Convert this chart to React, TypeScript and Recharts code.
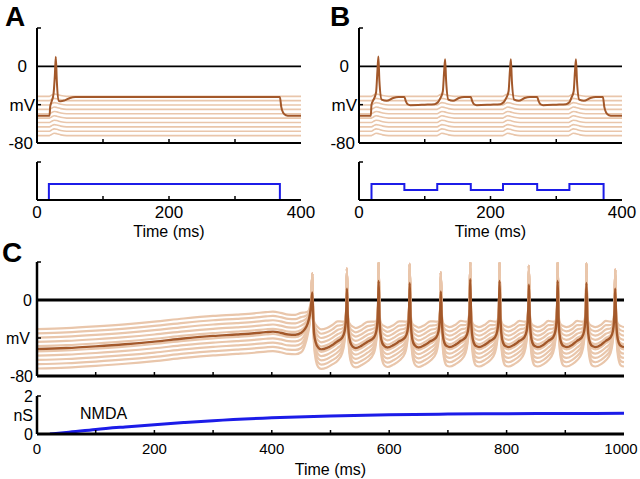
import React from 'react'
import { LineChart, Line, XAxis, YAxis, ReferenceLine } from 'recharts'

const FONT = '"Liberation Sans", Arial, Helvetica, sans-serif'
const DARK = '#a3582a'
const LIGHT = '#e9c6ab'
const BLUE = '#1c1ce8'

// ---- A: one long current step
const aTime = [0, 19, 20, 22, 25, 27, 28.5, 30, 33, 36, 42, 50, 58, 368, 370, 373, 377, 383, 400]
const aVm = [-51.6, -51.6, -42, -37, -29, -10, 10, -15, -36, -36.5, -35.5, -33, -32, -32, -42, -48.5, -51, -51.6, -51.6]
const aStepT = [18, 18, 368, 368]
const aStepI = [0, 0.42, 0.42, 0]

// faint sweeps in A and B sit at fixed levels (mV) with a small bump at each pulse onset
const restLevels = [-31.3, -35.8, -40.3, -44.9, -49.5, -54, -58.6, -63.2, -67.7, -72.3]
const aBumpT = [0, 19, 22, 26, 30, 36, 45, 400]
const aBump = [0, 0, 1.2, 2.4, 2, 0.8, 0, 0]

// ---- B: pulsed current
const bTime = [
  0, 18, 19, 22, 26, 28, 29.5, 31, 34.5, 42, 52, 60, 69, 71, 74, 78, 100, 115,
  120, 124, 127.5, 129.5, 131, 132.5, 136, 143, 152, 160, 170, 172, 175, 179, 200, 215,
  220, 224, 227.5, 229.5, 231, 232.5, 236, 243, 252, 260, 271, 273, 276, 280, 300, 315,
  320, 323, 326.5, 328.5, 330, 331.5, 335, 342, 352, 360, 371, 373, 376, 380, 386, 400,
]
const bVm = [
  -51.6, -51.6, -40, -35, -27, -5, 10.2, -15, -34.7, -36, -33, -32, -32, -36, -39.5, -40.5, -40, -39.5,
  -37.5, -33, -26, -5, 7.4, -15, -34.7, -36, -33, -32, -32, -36, -39.5, -40.5, -40, -39.5,
  -37.5, -33, -26, -5, 7.4, -15, -34.7, -36, -33, -32, -32, -36, -39.5, -40.5, -40, -39.5,
  -37.5, -33, -26, -5, 7.4, -15, -34.7, -36, -33, -32, -32, -42, -48.5, -51, -51.6, -51.6,
]
const bStepT = [19, 19, 69, 69, 119, 119, 170, 170, 219, 219, 271, 271, 320, 320, 372, 372]
const bStepI = [0, 0.42, 0.42, 0.26, 0.26, 0.42, 0.42, 0.26, 0.26, 0.42, 0.42, 0.26, 0.26, 0.42, 0.42, 0]
const bBumpT = [0, 19, 22, 26, 30, 36, 45, 119, 122, 126, 130, 136, 145, 219, 222, 226, 230, 236, 245, 319, 322, 326, 330, 336, 345, 400]
const bBump = [0, 0, 1.2, 2.4, 2, 0.8, 0, 0, 1.2, 2.4, 2, 0.8, 0, 0, 1.2, 2.4, 2, 0.8, 0, 0, 1.2, 2.4, 2, 0.8, 0, 0]

// ---- C: NMDA drive. [t, Vm, spread of the faint sweeps around the dark one]
const cSweep: [number, number, number][] = [
  [0, -51.6, 1], [50, -50.6, 1], [100, -48.8, 1], [150, -46.6, 1], [200, -43.8, 1], [250, -40.5, 1],
  [300, -37.8, 1], [340, -36.3, 1], [370, -35, 1], [390, -33.8, 1], [402, -33.3, 1], [415, -34.5, 1],
  [428, -36.3, 1], [440, -36.6, 1], [450, -34.5, 1], [456, -31, 0.85], [461, -25, 0.6], [465, -15, 0.4], [467, -5, 0.25],
  [469, 8, 0],
  [470.5, -18, 0.3], [472, -35, 0.6], [475, -45, 0.9], [479, -50, 1], [484, -52, 1], [494, -50.5, 1], [504, -47, 1],
  [512, -43.5, 1], [520, -39.5, 0.8], [524, -33, 0.5], [526, -22, 0.3], [527, -8, 0.15],
  [528, 12, 0],
  [529.5, -18, 0.3], [531, -35, 0.6], [534, -45, 0.9], [538, -49, 1], [543, -50.5, 1], [553, -48, 1], [563, -44, 1],
  [574, -39.5, 0.8], [578, -33, 0.5], [580, -22, 0.3], [581, -8, 0.15],
  [582, 20, 0],
  [583.5, -18, 0.3], [585, -35, 0.6], [588, -45, 0.9], [592, -48.5, 1], [597, -50, 1], [607, -47.5, 1], [617, -43.5, 1],
  [627, -39.5, 0.8], [631, -33, 0.5], [633, -22, 0.3], [634, -8, 0.15],
  [635, 18, 0],
  [636.5, -18, 0.3], [638, -35, 0.6], [641, -45, 0.9], [645, -48.5, 1], [650, -50, 1], [660, -47.5, 1], [670, -43.5, 1],
  [680, -39.5, 0.8], [684, -33, 0.5], [686, -22, 0.3], [687, -8, 0.15],
  [688, 9, 0],
  [689.5, -18, 0.3], [691, -35, 0.6], [694, -45, 0.9], [698, -48.5, 1], [703, -49.5, 1], [713, -47, 1], [722, -43, 1],
  [730, -39.5, 0.8], [734, -33, 0.5], [736, -22, 0.3], [737, -8, 0.15],
  [738, 22, 0],
  [739.5, -18, 0.3], [741, -35, 0.6], [744, -45, 0.9], [748, -48.5, 1], [753, -49.5, 1], [763, -47, 1], [772, -43, 1],
  [780, -39.5, 0.8], [784, -33, 0.5], [786, -22, 0.3], [787, -8, 0.15],
  [788, 20, 0],
  [789.5, -18, 0.3], [791, -35, 0.6], [794, -45, 0.9], [798, -48.5, 1], [803, -49.5, 1], [813, -47, 1], [822, -43, 1],
  [830, -39.5, 0.8], [834, -33, 0.5], [836, -22, 0.3], [837, -8, 0.15],
  [838, 16, 0],
  [839.5, -18, 0.3], [841, -35, 0.6], [844, -45, 0.9], [848, -48.5, 1], [853, -49.5, 1], [863, -47, 1], [871, -43, 1],
  [879, -39.5, 0.8], [883, -33, 0.5], [885, -22, 0.3], [886, -8, 0.15],
  [887, 20, 0],
  [888.5, -18, 0.3], [890, -35, 0.6], [893, -45, 0.9], [897, -48.5, 1], [902, -49.5, 1], [912, -47, 1], [920, -43, 1],
  [928, -39.5, 0.8], [932, -33, 0.5], [934, -22, 0.3], [935, -8, 0.15],
  [936, 18, 0],
  [937.5, -18, 0.3], [939, -35, 0.6], [942, -45, 0.9], [946, -48.5, 1], [951, -49.5, 1], [961, -47, 1], [969, -43, 1],
  [977, -39.5, 0.8], [981, -33, 0.5], [983, -22, 0.3], [984, -8, 0.15],
  [985, 12, 0],
  [986.5, -18, 0.3], [988, -35, 0.6], [991, -45, 0.9], [995, -48.5, 1], [1000, -49.5, 1],
]
const cSpikeT = [469, 528, 582, 635, 688, 738, 788, 838, 887, 936, 985]
const cSpikeTop = [28, 33, 40, 38, 29, 40, 40, 36, 40, 39, 32]
const cOffsets = [21, 16.5, 12, 7.5, 3, -2.5, -7, -11.5, -16, -20.5]
const nmdaT = [22, 50, 100, 150, 200, 250, 300, 400, 500, 600, 700, 800, 900, 1000]
const nmdaG = [0, 0.08, 0.24, 0.37, 0.49, 0.6, 0.7, 0.85, 0.95, 1.01, 1.05, 1.07, 1.08, 1.09]

const zip = (ts: number[], vs: number[]) => ts.map((t, i) => ({ t, v: vs[i] }))

const aDark = zip(aTime, aVm)
const bDark = zip(bTime, bVm)
const aLight = restLevels.map((lv) => aBumpT.map((t, i) => ({ t, v: lv + aBump[i] })))
const bLight = restLevels.map((lv) => bBumpT.map((t, i) => ({ t, v: lv + bBump[i] })))
const cDark = cSweep.map(([t, v]) => ({ t, v }))
const cLight = cOffsets.map((off) =>
  cSweep.map(([t, v, s]) => {
    const k = cSpikeT.indexOf(t)
    return { t, v: k >= 0 ? cSpikeTop[k] : v + off * s }
  })
)

type YSpec = { label?: string; gap?: number; mark?: boolean }

function yTick(specs: Record<string, YSpec>, fontSize: number) {
  return (props: any) => {
    const { x, y, payload } = props
    const s = specs[String(payload.value)]
    if (!s) return <g />
    return (
      <g>
        {s.mark && <line x1={x} x2={x + 4} y1={y} y2={y} stroke="#000" strokeWidth={1.5} />}
        {s.label && (
          <text x={x - (s.gap ?? 4)} y={y} dy="0.36em" textAnchor="end" fontSize={fontSize} fontFamily={FONT} fill="#000">
            {s.label}
          </text>
        )}
      </g>
    )
  }
}

// labels centred under their tick; the last one is nudged left so it stays inside the frame
function xTick(labels: number[], marks: number[], fontSize: number, drop: number, lastNudge = 0) {
  const last = labels[labels.length - 1]
  return (props: any) => {
    const { x, y, payload } = props
    const v = payload.value
    return (
      <g>
        {marks.includes(v) && <line x1={x} x2={x} y1={y} y2={y - 4} stroke="#000" strokeWidth={1.5} />}
        {labels.includes(v) && (
          <text x={x - (v === last ? lastNudge : 0)} y={y + drop} dy="0.36em" textAnchor="middle" fontSize={fontSize} fontFamily={FONT} fill="#000">
            {v}
          </text>
        )}
      </g>
    )
  }
}

// axes get 1px of room; the plot edge then sits at margin + 1
const axisBase = { tickSize: 0, tickMargin: 0, tickLine: false, interval: 0 as const, allowDataOverflow: true }

const box = (left: number, top: number): React.CSSProperties => ({ position: 'absolute', left, top })

const timeLabel = (offset: number) => ({
  value: 'Time (ms)',
  position: 'bottom' as const,
  offset,
  fontSize: 16,
  fontFamily: FONT,
  fill: '#000',
})

function VmShort({ left, mLeft, mRight, dark, light }: { left: number; mLeft: number; mRight: number; dark: any[]; light: any[][] }) {
  return (
    <div style={box(left, 0)}>
      <LineChart width={320} height={160} margin={{ top: 28, right: mRight, bottom: 16, left: mLeft - 1 }}>
        <XAxis
          {...axisBase}
          dataKey="t"
          type="number"
          domain={[0, 400]}
          ticks={[0, 100, 200, 300, 400]}
          height={1}
          axisLine={{ stroke: '#000', strokeWidth: 2 }}
          tick={xTick([], [100, 200, 300], 16, 12)}
        />
        <YAxis
          {...axisBase}
          type="number"
          domain={[-80, 40]}
          ticks={[-80, -40, 0, 40]}
          width={1}
          axisLine={{ stroke: '#000', strokeWidth: 2 }}
          tick={yTick({ '40': { mark: true }, '0': { label: '0', gap: 10 }, '-40': { label: 'mV', gap: 2, mark: true }, '-80': { label: '-80', gap: 4 } }, 17)}
        />
        <ReferenceLine y={0} stroke="#000" strokeWidth={1.6} />
        {light.map((d, i) => (
          <Line key={i} data={d} dataKey="v" type="monotone" stroke={LIGHT} strokeWidth={1.6} dot={false} activeDot={false} isAnimationActive={false} />
        ))}
        <Line data={dark} dataKey="v" type="monotone" stroke={DARK} strokeWidth={2} dot={false} activeDot={false} isAnimationActive={false} />
      </LineChart>
    </div>
  )
}

function CurrentShort({ left, mLeft, mRight, step }: { left: number; mLeft: number; mRight: number; step: any[] }) {
  return (
    <div style={box(left, 150)}>
      <LineChart width={320} height={100} margin={{ top: 12, right: mRight, bottom: 49, left: mLeft - 1 }}>
        <XAxis
          {...axisBase}
          dataKey="t"
          type="number"
          domain={[0, 400]}
          ticks={[0, 100, 200, 300, 400]}
          height={1}
          axisLine={{ stroke: '#000', strokeWidth: 2 }}
          tick={xTick([0, 200, 400], [100, 200, 300], 17, 12)}
          label={timeLabel(25)}
        />
        <YAxis
          {...axisBase}
          type="number"
          domain={[0, 1]}
          ticks={[0, 1]}
          width={1}
          axisLine={{ stroke: '#000', strokeWidth: 2 }}
          tick={yTick({ '1': { mark: true } }, 16)}
        />
        <Line data={step} dataKey="v" type="linear" stroke={BLUE} strokeWidth={2} dot={false} activeDot={false} isAnimationActive={false} />
      </LineChart>
    </div>
  )
}

const letter = (ch: string, left: number, top: number) => (
  <div style={{ position: 'absolute', left, top, fontFamily: FONT, fontWeight: 'bold', fontSize: 28, lineHeight: 1, color: '#000' }}>{ch}</div>
)

export default function App() {
  const cTicks = [0, 100, 200, 300, 400, 500, 600, 700, 800, 900, 1000]
  const cMarks = [100, 200, 300, 400, 500, 600, 700, 800, 900]
  return (
    <div style={{ position: 'absolute', left: 0, top: 0, width: 640, height: 479, background: '#fff', overflow: 'hidden' }}>
      {letter('A', 5, 3)}
      {letter('B', 330, 3)}
      {letter('C', 2, 239)}

      <CurrentShort left={0} mLeft={37} mRight={19} step={zip(aStepT, aStepI)} />
      <CurrentShort left={320} mLeft={39} mRight={18} step={zip(bStepT, bStepI)} />
      <VmShort left={0} mLeft={37} mRight={19} dark={aDark} light={aLight} />
      <VmShort left={320} mLeft={39} mRight={18} dark={bDark} light={bLight} />

      <div style={box(0, 240)}>
        <LineChart width={640} height={145} margin={{ top: 22, right: 16, bottom: 8, left: 36 }}>
          <XAxis
            {...axisBase}
            dataKey="t"
            type="number"
            domain={[0, 1000]}
            ticks={cTicks}
            height={1}
            axisLine={{ stroke: '#000', strokeWidth: 3 }}
            tick={xTick([], cMarks, 16, 15)}
          />
          <YAxis
            {...axisBase}
            type="number"
            domain={[-80, 40]}
            ticks={[-80, -40, 0, 40]}
            width={1}
            axisLine={{ stroke: '#000', strokeWidth: 2.5 }}
            tick={yTick({ '40': { mark: true }, '0': { label: '0', gap: 5 }, '-40': { label: 'mV', gap: 7, mark: true }, '-80': { label: '-80', gap: 4 } }, 16)}
          />
          <ReferenceLine y={0} stroke="#000" strokeWidth={3} />
          {cLight.map((d, i) => (
            <Line key={i} data={d} dataKey="v" type="monotone" stroke={LIGHT} strokeWidth={2.2} dot={false} activeDot={false} isAnimationActive={false} />
          ))}
          <Line data={cDark} dataKey="v" type="monotone" stroke={DARK} strokeWidth={2.4} dot={false} activeDot={false} isAnimationActive={false} />
        </LineChart>
      </div>

      <div style={box(0, 385)}>
        <LineChart width={640} height={94} margin={{ top: 11, right: 16, bottom: 44, left: 36 }}>
          <XAxis
            {...axisBase}
            dataKey="t"
            type="number"
            domain={[0, 1000]}
            ticks={cTicks}
            height={1}
            axisLine={{ stroke: '#000', strokeWidth: 3 }}
            tick={xTick(cTicks.filter((t) => t % 200 === 0), cMarks, 15, 15, 3)}
            label={timeLabel(29)}
          />
          <YAxis
            {...axisBase}
            type="number"
            domain={[0, 2]}
            ticks={[0, 1, 2]}
            width={1}
            axisLine={{ stroke: '#000', strokeWidth: 2.5 }}
            tick={yTick({ '2': { label: '2', gap: 4, mark: true }, '1': { label: 'nS', gap: 4 }, '0': { label: '0', gap: 4 } }, 16)}
          />
          <Line data={zip(nmdaT, nmdaG)} dataKey="v" type="monotone" stroke={BLUE} strokeWidth={3} dot={false} activeDot={false} isAnimationActive={false} />
        </LineChart>
      </div>

      <div style={{ position: 'absolute', left: 80, top: 406, fontFamily: FONT, fontSize: 16, lineHeight: 1, color: '#000' }}>NMDA</div>
    </div>
  )
}
